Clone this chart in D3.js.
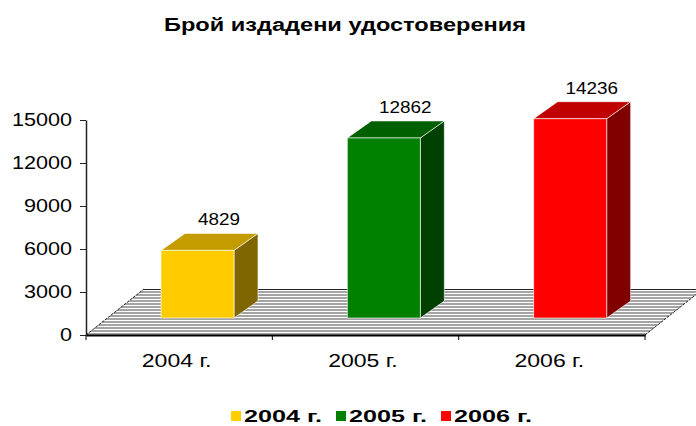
<!DOCTYPE html>
<meta charset="utf-8">
<style>
body { margin: 0; background: #fff; }
text { font-family: "Liberation Sans", Arial, sans-serif; fill: #000; }
</style>
<body>
<script src="https://d3js.org/d3.v7.min.js"></script>
<script>

var title = "Брой издадени удостоверения";
var categories = ["2004 г.", "2005 г.", "2006 г."];
var values = [4829, 12862, 14236];
var yTicks = [0, 3000, 6000, 9000, 12000, 15000];
var frontColors = ["#ffcc00", "#008000", "#ff0000"];
var topColors = ["#c49c00", "#006000", "#c00000"];
var sideColors = ["#806600", "#004000", "#800000"];

var width = 696,
  height = 426;

var svg = d3.select("body").append("svg")
  .attr("width", width)
  .attr("height", height);

var x = d3.scaleBand().domain(categories).range([86, 645]);
var y = d3.scaleLinear().domain([0, 15000]).range([335, 120]);
// bars stand half way back on the floor, so their scale is shifted up
var yBar = d3.scaleLinear().domain([0, 15000]).range([318, 108]);

var floorDx = 58, floorDy = -46;
var barDx = 24, barDy = -17, barW = 73, barOff = 75;

// stretched text, the picture is wider than it is tall
function stext(g, tx, ty, str, size, sx, anchor, weight) {
  return g.append("text")
    .attr("transform", "translate(" + tx + "," + ty + ") scale(" + sx + ",1)")
    .attr("text-anchor", anchor)
    .attr("font-size", size)
    .attr("font-weight", weight || "normal")
    .text(str);
}

// striped floor
var pat = svg.append("defs").append("pattern")
  .attr("id", "stripes")
  .attr("patternUnits", "userSpaceOnUse")
  .attr("width", 8)
  .attr("height", 3);
pat.append("rect").attr("width", 8).attr("height", 3).attr("fill", "#fff");
pat.append("rect").attr("width", 8).attr("height", 2).attr("fill", "#a4a4a4");

var x0 = x.range()[0], x1 = x.range()[1], y0 = y(0);
var floor = [[x0, y0], [x1, y0], [x1 + floorDx, y0 + floorDy], [x0 + floorDx, y0 + floorDy]];

svg.append("polygon")
  .attr("points", floor.map(function(p) { return p.join(","); }).join(" "))
  .attr("fill", "url(#stripes)");

svg.append("line")
  .attr("x1", x0 + floorDx).attr("y1", y0 + floorDy + 0.5)
  .attr("x2", x1 + floorDx).attr("y2", y0 + floorDy + 0.5)
  .attr("stroke", "#222");

[[x0, x0 + floorDx], [x1, x1 + floorDx]].forEach(function(e) {
  svg.append("line")
    .attr("x1", e[0]).attr("y1", y0)
    .attr("x2", e[1]).attr("y2", y0 + floorDy)
    .attr("stroke", "#222")
    .attr("stroke-dasharray", "3,1");
});

// y axis
var yAxis = svg.append("g")
  .attr("transform", "translate(" + x0 + ",0)")
  .call(d3.axisLeft(y).tickValues(yTicks).tickFormat(d3.format("d")).tickSize(6).tickSizeOuter(0));
yAxis.attr("font-family", null).attr("font-size", null);
yAxis.select(".domain").attr("stroke", "#222").attr("stroke-width", 1.5);
yAxis.selectAll(".tick line").attr("stroke", "#222");
yAxis.selectAll(".tick text")
  .attr("font-size", 18)
  .attr("x", -14 / 1.2)
  .attr("transform", "scale(1.2,1)");

// x axis
var xAxis = svg.append("g")
  .attr("transform", "translate(0," + y0 + ")")
  .call(d3.axisBottom(x).tickSize(0).tickSizeOuter(0).tickPadding(19));
xAxis.attr("font-family", null).attr("font-size", null);
xAxis.select(".domain").attr("stroke", "#000").attr("stroke-width", 2);
xAxis.selectAll(".tick text")
  .attr("font-size", 18)
  .attr("x", -2)
  .attr("transform", "scale(1.28,1)");

xAxis.selectAll(".sep")
  .data(categories.map(function(c) { return x(c); }).concat([x1]))
  .enter().append("line")
  .attr("class", "sep")
  .attr("x1", function(d) { return d; })
  .attr("x2", function(d) { return d; })
  .attr("y1", 0)
  .attr("y2", 5)
  .attr("stroke", "#000");

// bars
var bars = svg.selectAll(".bar")
  .data(categories)
  .enter().append("g")
  .attr("class", "bar");

function pts(a) { return a.map(function(p) { return p.join(","); }).join(" "); }

bars.each(function(c, i) {
  var g = d3.select(this);
  var l = x(c) + barOff, r = l + barW;
  var b = yBar(0), t = yBar(values[i]);
  var edge = "rgba(255,255,255,0.6)";
  g.append("polygon")
    .attr("points", pts([[r, b], [r + barDx, b + barDy], [r + barDx, t + barDy], [r, t]]))
    .attr("fill", sideColors[i]).attr("stroke", edge);
  g.append("polygon")
    .attr("points", pts([[l, t], [r, t], [r + barDx, t + barDy], [l + barDx, t + barDy]]))
    .attr("fill", topColors[i]).attr("stroke", edge);
  g.append("rect")
    .attr("x", l).attr("y", t)
    .attr("width", barW).attr("height", b - t)
    .attr("fill", frontColors[i]).attr("stroke", edge);

  stext(svg, l + 58, t - 25, values[i], 16, 1.18, "middle");
});

// title
stext(svg, 345, 31, title, 18, 1.31, "middle", "bold");

// legend
var legend = svg.selectAll(".legend")
  .data(categories)
  .enter().append("g")
  .attr("class", "legend")
  .attr("transform", function(d, i) { return "translate(" + (231 + i * 105) + ",411)"; });

legend.append("rect")
  .attr("width", 10)
  .attr("height", 10)
  .attr("fill", function(d, i) { return frontColors[i]; });

legend.each(function(d) {
  stext(d3.select(this), 13, 10.5, d, 17, 1.48, "start", "bold");
});

</script>
</body>
</html>
